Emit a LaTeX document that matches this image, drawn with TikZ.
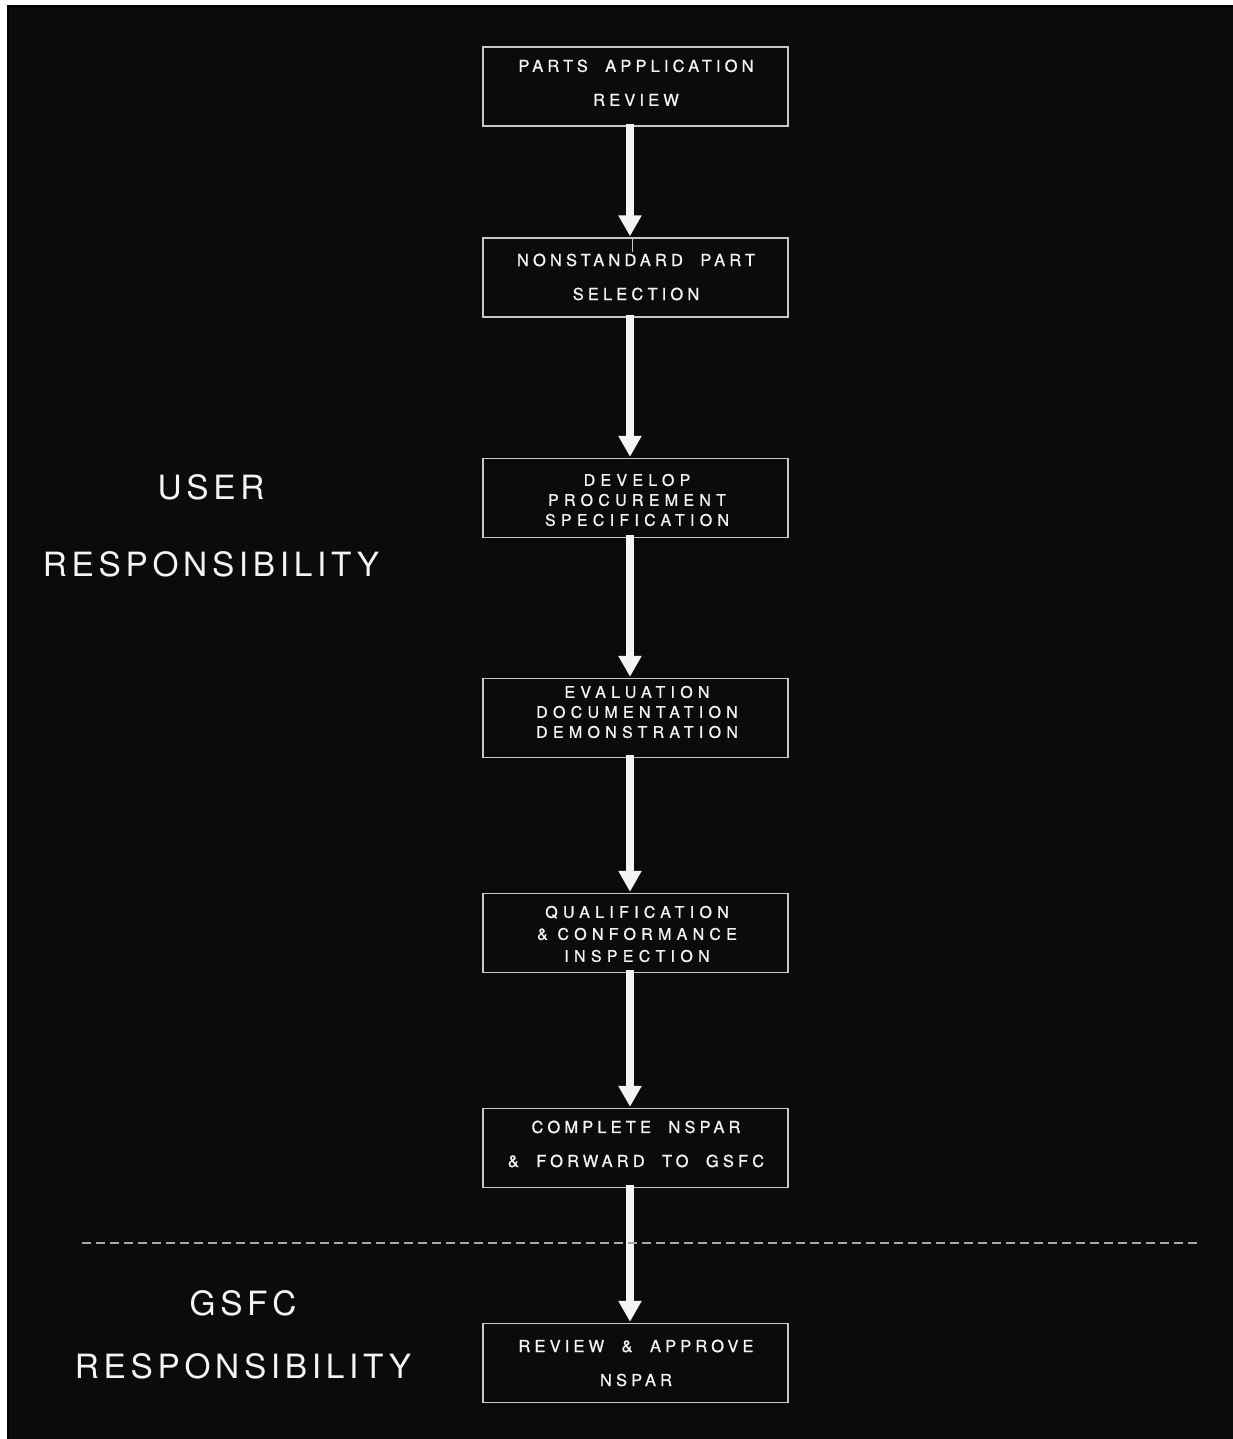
\documentclass[tikz,border=0pt]{standalone}
\usepackage{fontspec}
\setmainfont{TeX Gyre Heros}
\newfontfamily\boxfont[LetterSpace=25,WordSpace=2,FakeBold=0.8]{TeX Gyre Heros}
\newfontfamily\boxfontwide[LetterSpace=33,WordSpace=1,FakeBold=0.8]{TeX Gyre Heros}
\newfontfamily\sidefont[LetterSpace=14]{TeX Gyre Heros}
\usetikzlibrary{arrows.meta}
\definecolor{bg}{HTML}{0B0B0B}
\definecolor{edge}{HTML}{C8C8C8}
\definecolor{ink}{HTML}{F4F4F4}
\definecolor{dashc}{HTML}{A8A8A8}
\begin{document}
\begin{tikzpicture}[x=1pt,y=-1pt,
  stepbox/.style={draw=edge,line width=1.3pt,minimum width=305pt,minimum height=79pt,inner sep=0pt},
  boxtxt/.style={text=ink,align=center,inner sep=0pt,font=\boxfont\fontsize{16.5}{34}\selectfont},
  tighttxt/.style={text=ink,align=center,inner sep=0pt,font=\boxfontwide\fontsize{16}{20}\selectfont},
  widetxt/.style={text=ink,align=center,inner sep=0pt,font=\boxfontwide\fontsize{16}{22}\selectfont},
  sidetxt/.style={text=ink,inner sep=0pt,font=\sidefont\fontsize{33.4}{40}\selectfont},
  flow/.style={draw=ink,line width=8pt,-{Triangle[length=21pt,width=22pt]}}]
\useasboundingbox (0,0) rectangle (1233,1439);
\fill[white] (0,0) rectangle (1233,1439);
\fill[bg] (7,5) rectangle (1233,1439);
\draw[black,line width=2pt] (8,1439) -- (8,6) -- (1233,6);

% boxes
\node[stepbox] (b1) at (635.5,86.5) {};
\node[stepbox] (b2) at (635.5,277.5) {};
\node[stepbox] (b3) at (635.5,498) {};
\node[stepbox] (b4) at (635.5,718) {};
\node[stepbox] (b5) at (635.5,933) {};
\node[stepbox] (b6) at (635.5,1148) {};
\node[stepbox] (b7) at (635.5,1363) {};

% box texts
\node[boxtxt] (t1) at (636,82.7) {PARTS APPLICATION\\REVIEW};
\node[boxtxt] (t2) at (636,277) {NONSTANDARD PART\\SELECTION};
\node[tighttxt] (t3) at (637,500) {DEVELOP\\PROCUREMENT\\SPECIFICATION};
\node[tighttxt] (t4) at (637,712) {EVALUATION\\DOCUMENTATION\\DEMONSTRATION};
\node[widetxt] (t5) at (637,934) {QUALIFICATION\\\& CONFORMANCE\\INSPECTION};
\node[boxtxt] (t6) at (636,1144) {COMPLETE NSPAR\\\& FORWARD TO GSFC};
\node[boxtxt] (t7) at (636,1363) {REVIEW \& APPROVE\\NSPAR};

% small mark in box 2
\coordinate (m) at (632,252);
\draw[edge,line width=0.8pt] (m |- b2.north) -- (m);

% arrows
\foreach \a/\b in {b1/b2,b2/b3,b3/b4,b4/b5,b5/b6,b6/b7}
  \draw[flow] ([xshift=-5.5pt,yshift=3pt]\a.south) -- ([xshift=-5.5pt,yshift=1pt]\b.north);

% divider
\coordinate (d1) at (82,1243);
\coordinate (d2) at (1200,1243);
\draw[dashc,line width=1.5pt,dash pattern=on 9pt off 5pt] (d1) -- (d2);

% side labels
\node[sidetxt] (u1) at (211,487) {USER};
\node[sidetxt] (u2) at (211,564) {RESPONSIBILITY};
\node[sidetxt] (g1) at (243,1303) {GSFC};
\node[sidetxt] (g2) at (243,1366) {RESPONSIBILITY};
\end{tikzpicture}
\end{document}
